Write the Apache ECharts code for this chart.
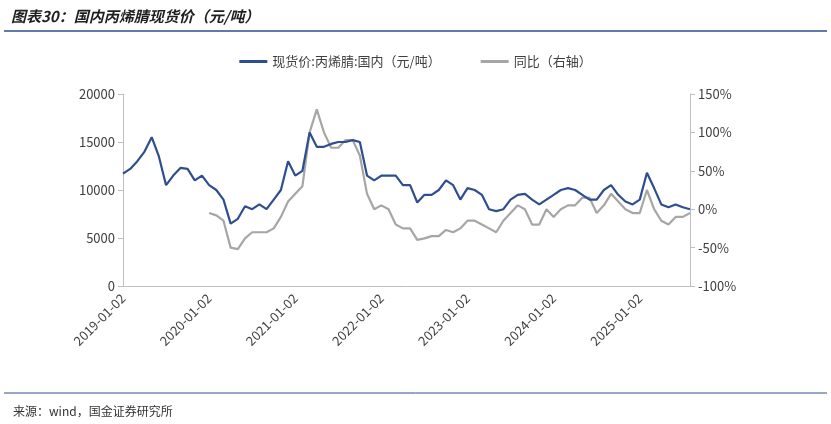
<!DOCTYPE html>
<html><head><meta charset="utf-8">
<script src="https://cdn.jsdelivr.net/npm/echarts@6/dist/echarts.min.js"></script>
<style>html,body{margin:0;padding:0;background:#fff}#c{width:831px;height:424px}</style>
</head><body><div id="c"></div>
<script>
const years = [2019,2020,2021,2022,2023,2024,2025];
const price = [
11700,12200,13000,14000,15500,13500,10500,11500,12300,12200,11000,11500,
10500,10000,9000,6500,7000,8300,8000,8500,8000,9000,10000,13000,
11500,12000,16000,14500,14500,14800,15000,15000,15200,15000,11500,11000,
11500,11500,11500,10500,10500,8700,9500,9500,10000,11000,10500,9000,
10200,10000,9500,8000,7800,8000,9000,9500,9600,9000,8500,9000,
9500,10000,10200,10000,9500,9000,9000,10000,10500,9500,8800,8500,
9000,11800,10200,8500,8200,8500,8200,8000];
const yoy = [
null,null,null,null,null,null,null,null,null,null,null,null,
-5,-8,-15,-50,-52,-38,-30,-30,-30,-25,-10,10,
20,30,100,130,100,80,80,90,90,70,20,0,
5,0,-20,-25,-25,-40,-38,-35,-35,-27,-30,-25,
-15,-15,-20,-25,-30,-15,-5,5,0,-20,-20,0,
-10,0,5,5,15,15,-5,5,20,10,0,-5,
-5,25,0,-15,-20,-10,-10,-5];
const cats = [];
for (const y of years) for (let m=1;m<=12;m++){ if (cats.length<price.length) cats.push(y+'-'+String(m).padStart(2,'0')+'-02'); }
const c = echarts.init(document.getElementById('c'));
const axisGray = {lineStyle:{color:'#bfbfbf'}};
c.setOption({
  animation:false,
  textStyle:{fontFamily:'Noto Sans CJK SC'},
  title:[{text:'图表30：国内丙烯腈现货价（元/吨）',left:6,top:4,textStyle:{fontSize:15,fontStyle:'italic',fontWeight:'bold',color:'#1f1f1f'}},
         {text:'来源：wind，国金证券研究所',left:8,top:400,textStyle:{fontSize:12,fontWeight:'normal',color:'#333'}}],
  graphic:[{type:'line',shape:{x1:4,y1:31,x2:827,y2:31},style:{stroke:'#2E4E8F',lineWidth:1.5}},
           {type:'line',shape:{x1:4,y1:393,x2:827,y2:393},style:{stroke:'#2E4E8F',lineWidth:1}}],
  legend:{top:50,left:'center',itemWidth:28,itemGap:40,icon:'path://M0,0H28V3H0Z',textStyle:{fontSize:13,color:'#404040'},
    data:['现货价:丙烯腈:国内（元/吨）','同比（右轴）']},
  grid:{left:123,right:141,top:94,bottom:138},
  xAxis:{type:'category',data:cats,boundaryGap:false,axisLine:axisGray,axisTick:{show:false},
    axisLabel:{interval:11,rotate:45,fontSize:13,color:'#404040',margin:10}},
  yAxis:[{type:'value',min:0,max:20000,interval:5000,splitLine:{show:false},axisLine:{show:true,lineStyle:{color:'#bfbfbf'}},axisTick:{show:true,lineStyle:{color:'#bfbfbf'}},axisLabel:{fontSize:13,color:'#404040',formatter:v=>String(v)}},
         {type:'value',min:-100,max:150,interval:50,splitLine:{show:false},axisLine:{show:true,lineStyle:{color:'#bfbfbf'}},axisTick:{show:true,lineStyle:{color:'#bfbfbf'}},axisLabel:{fontSize:13,color:'#404040',formatter:'{value}%'}}],
  series:[
    {name:'现货价:丙烯腈:国内（元/吨）',type:'line',data:price,showSymbol:false,lineStyle:{width:2.2,color:'#2E4E8F'},itemStyle:{color:'#2E4E8F'},z:3},
    {name:'同比（右轴）',type:'line',yAxisIndex:1,data:yoy,showSymbol:false,lineStyle:{width:2.2,color:'#A6A6A6'},itemStyle:{color:'#A6A6A6'},z:2}
  ]
});
</script></body></html>
